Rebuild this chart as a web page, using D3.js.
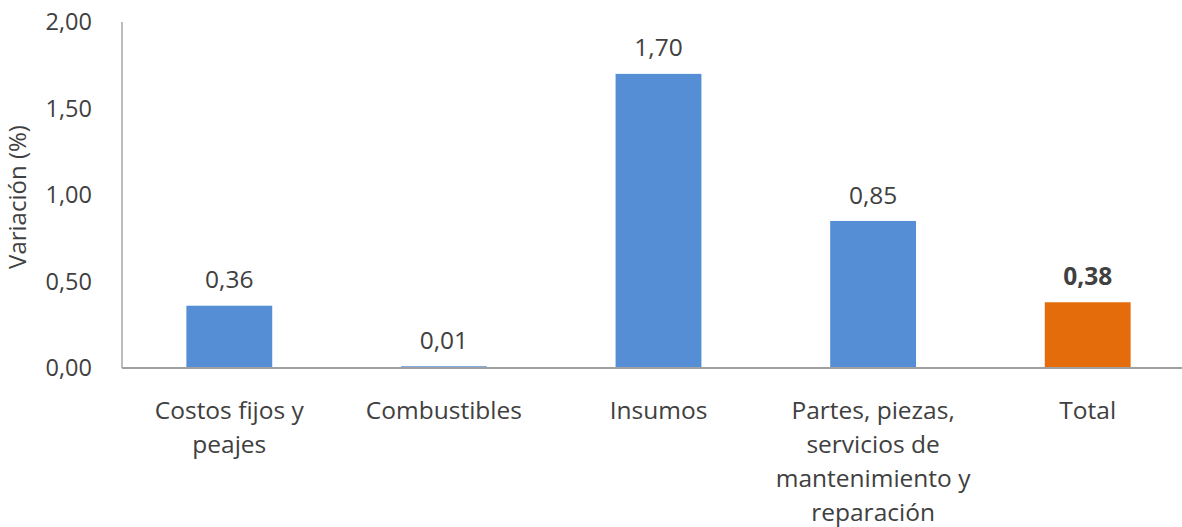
<!DOCTYPE html>
<html>
<head>
<meta charset="utf-8">
<script src="https://cdn.jsdelivr.net/npm/d3@7"></script>
<style>
  body { margin: 0; background: #fff; }
  text { font-family: "Open Sans", "Noto Sans", sans-serif; fill: #404040; }
</style>
</head>
<body>
<svg id="chart" width="1182" height="527"></svg>
<script>
const categories = [
  ["Costos fijos y", "peajes"],
  ["Combustibles"],
  ["Insumos"],
  ["Partes, piezas,", "servicios de", "mantenimiento y", "reparación"],
  ["Total"]
];
const values = [0.36, 0.01, 1.70, 0.85, 0.38];
const yTicks = [0, 0.5, 1, 1.5, 2];

const svg = d3.select("#chart");
const fmt = v => d3.format(".2f")(v).replace(".", ",");

const x = d3.scaleBand()
  .domain(d3.range(values.length))
  .range([122, 1195])
  .paddingInner(0.6)
  .paddingOuter(0.3);

const y = d3.scaleLinear().domain([0, 2]).range([368, 22]);

// y axis line
svg.append("line")
  .attr("x1", 122).attr("x2", 122)
  .attr("y1", y(2)).attr("y2", y(0))
  .attr("stroke", "#a6a6a6").attr("stroke-width", 1.5);

// tick labels
svg.append("g")
  .selectAll("text")
  .data(yTicks)
  .enter()
  .append("text")
  .attr("x", 92)
  .attr("y", d => y(d))
  .attr("dy", "0.35em")
  .attr("text-anchor", "end")
  .style("font-size", "23.5px")
  .text(d => fmt(d));

// y title
svg.append("text")
  .attr("transform", "translate(18," + 197 + ") rotate(-90)")
  .attr("text-anchor", "middle")
  .attr("dy", "0.35em")
  .style("font-size", "24px")
  .text("Variación (%)");

// bars
svg.append("g")
  .selectAll("rect")
  .data(values)
  .enter()
  .append("rect")
  .attr("x", (d, i) => x(i))
  .attr("width", x.bandwidth())
  .attr("y", d => y(d))
  .attr("height", d => y(0) - y(d))
  .attr("fill", (d, i) => i === values.length - 1 ? "#e46c0a" : "#558ed5");

// baseline
svg.append("line")
  .attr("x1", 122).attr("x2", 1182)
  .attr("y1", y(0)).attr("y2", y(0))
  .attr("stroke", "#a0a0a0").attr("stroke-width", 2);

// value labels
svg.append("g")
  .selectAll("text")
  .data(values)
  .enter()
  .append("text")
  .attr("x", (d, i) => x(i) + x.bandwidth() / 2)
  .attr("y", d => y(d) - 26)
  .attr("dy", "0.35em")
  .attr("text-anchor", "middle")
  .style("font-size", "24.5px")
  .style("font-weight", (d, i) => i === values.length - 1 ? "bold" : "normal")
  .text(d => fmt(d));

// category labels
const cat = svg.append("g")
  .selectAll("text")
  .data(categories)
  .enter()
  .append("text")
  .attr("x", (d, i) => x(i) + x.bandwidth() / 2)
  .attr("y", 410)
  .attr("text-anchor", "middle")
  .style("font-size", "24.5px");

cat.selectAll("tspan")
  .data(d => d)
  .enter()
  .append("tspan")
  .attr("x", function () { return d3.select(this.parentNode).attr("x"); })
  .attr("y", (d, j) => 410 + j * 34)
  .attr("dy", "0.35em")
  .text(d => d);
</script>
</body>
</html>
